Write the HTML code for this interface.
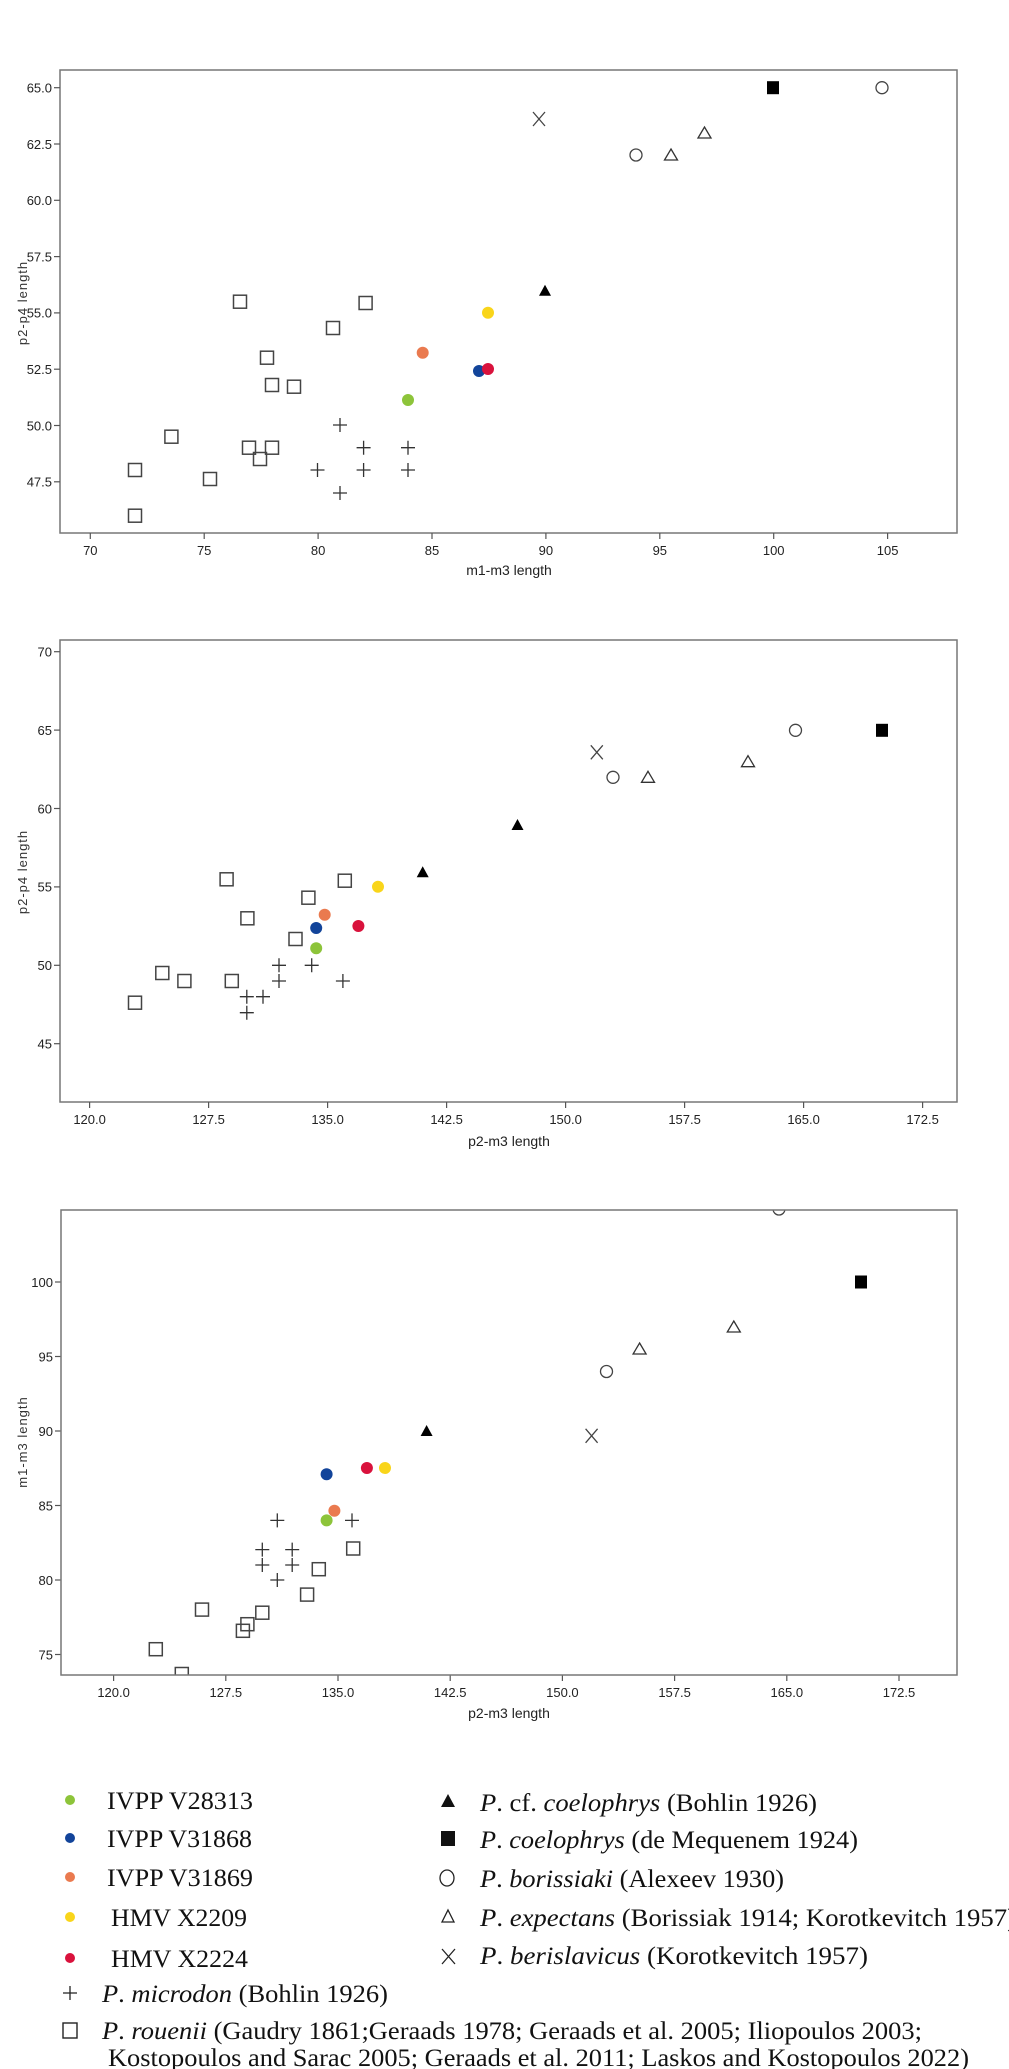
<!DOCTYPE html>
<html><head><meta charset="utf-8"><style>
html,body{margin:0;padding:0;background:#fff}
svg{display:block}
.t{font-family:"Liberation Sans",sans-serif;font-size:13px;fill:#222}
.ax{font-family:"Liberation Sans",sans-serif;font-size:14px;fill:#222}
.yt{font-family:"Liberation Sans",sans-serif;font-size:13px;fill:#333;letter-spacing:1px}
.lg{font-family:"Liberation Serif",serif;font-size:25px;fill:#111}
.i{font-style:italic}
</style></head><body>
<svg width="1009" height="2069" viewBox="0 0 1009 2069" xmlns="http://www.w3.org/2000/svg">
<defs>
<rect id="sq" x="-6.5" y="-6.5" width="13" height="13" fill="none" stroke="#444" stroke-width="1.5"/>
<rect id="fsq" x="-6" y="-6.5" width="12" height="13" fill="#000"/>
<circle id="oc" r="6" fill="none" stroke="#444" stroke-width="1.3"/>
<path id="ot" d="M0,-6 L6.5,5 L-6.5,5 Z" fill="none" stroke="#333" stroke-width="1.3"/>
<path id="ft" d="M0,-6 L6,5 L-6,5 Z" fill="#000"/>
<path id="pl" d="M-7,0 H7 M0,-7 V7" stroke="#333" stroke-width="1.3"/>
<path id="xx" d="M-6,-7 L6,7 M6,-7 L-6,7" stroke="#444" stroke-width="1.3"/>
</defs>

<!-- ===== Chart 1 ===== -->
<g>
<rect x="60" y="70" width="897" height="463" fill="none" stroke="#777" stroke-width="1.5"/>
<g stroke="#555" stroke-width="1.2">
<line x1="54" x2="60" y1="87.7" y2="87.7"/><line x1="54" x2="60" y1="144" y2="144"/><line x1="54" x2="60" y1="200.3" y2="200.3"/><line x1="54" x2="60" y1="256.6" y2="256.6"/><line x1="54" x2="60" y1="312.9" y2="312.9"/><line x1="54" x2="60" y1="369.2" y2="369.2"/><line x1="54" x2="60" y1="425.5" y2="425.5"/><line x1="54" x2="60" y1="481.8" y2="481.8"/>
<line y1="533" y2="539" x1="90.3" x2="90.3"/><line y1="533" y2="539" x1="204.2" x2="204.2"/><line y1="533" y2="539" x1="318.1" x2="318.1"/><line y1="533" y2="539" x1="432" x2="432"/><line y1="533" y2="539" x1="545.9" x2="545.9"/><line y1="533" y2="539" x1="659.8" x2="659.8"/><line y1="533" y2="539" x1="773.7" x2="773.7"/><line y1="533" y2="539" x1="887.6" x2="887.6"/>
</g>
<g class="t" text-anchor="end">
<text x="52" y="92.5">65.0</text><text x="52" y="148.8">62.5</text><text x="52" y="205.1">60.0</text><text x="52" y="261.4">57.5</text><text x="52" y="317.7">55.0</text><text x="52" y="374">52.5</text><text x="52" y="430.3">50.0</text><text x="52" y="486.6">47.5</text>
</g>
<g class="t" text-anchor="middle">
<text x="90.3" y="555">70</text><text x="204.2" y="555">75</text><text x="318.1" y="555">80</text><text x="432" y="555">85</text><text x="545.9" y="555">90</text><text x="659.8" y="555">95</text><text x="773.7" y="555">100</text><text x="887.6" y="555">105</text>
</g>
<text class="ax" x="509" y="575" text-anchor="middle">m1-m3 length</text>
<text class="yt" transform="translate(27,303) rotate(-90)" text-anchor="middle">p2-p4 length</text>
<use href="#xx" x="539" y="119"/>
<use href="#fsq" x="773" y="87.7"/>
<use href="#oc" x="882" y="87.7"/>
<use href="#ot" x="704.5" y="133"/>
<use href="#oc" x="636" y="155"/>
<use href="#ot" x="671" y="155"/>
<use href="#ft" x="545" y="290.7"/>
<use href="#sq" x="240" y="301.7"/><use href="#sq" x="365.6" y="303"/><use href="#sq" x="333" y="328"/><use href="#sq" x="267" y="357.7"/><use href="#sq" x="272" y="385"/><use href="#sq" x="294" y="386.7"/>
<use href="#sq" x="171.4" y="436.7"/><use href="#sq" x="249" y="447.7"/><use href="#sq" x="272" y="447.7"/><use href="#sq" x="260" y="459"/><use href="#sq" x="135" y="470"/><use href="#sq" x="210" y="479"/><use href="#sq" x="135" y="515.7"/>
<use href="#pl" x="340" y="425"/><use href="#pl" x="363.6" y="447.7"/><use href="#pl" x="408" y="447.7"/><use href="#pl" x="317.5" y="470"/><use href="#pl" x="363.6" y="470"/><use href="#pl" x="408" y="470"/><use href="#pl" x="340" y="493"/>
<circle cx="488" cy="312.7" r="6" fill="#f9d51a"/>
<circle cx="422.7" cy="352.7" r="6" fill="#ea7a4f"/>
<circle cx="479" cy="371" r="6" fill="#12449a"/>
<circle cx="488" cy="369" r="6" fill="#d9123c"/>
<circle cx="408" cy="400" r="6" fill="#8dc43a"/>
</g>

<!-- ===== Chart 2 ===== -->
<g>
<rect x="60" y="640" width="897" height="462" fill="none" stroke="#777" stroke-width="1.5"/>
<g stroke="#555" stroke-width="1.2">
<line x1="54" x2="60" y1="651.7" y2="651.7"/><line x1="54" x2="60" y1="730.1" y2="730.1"/><line x1="54" x2="60" y1="808.5" y2="808.5"/><line x1="54" x2="60" y1="886.9" y2="886.9"/><line x1="54" x2="60" y1="965.3" y2="965.3"/><line x1="54" x2="60" y1="1043.7" y2="1043.7"/>
<line y1="1102" y2="1108" x1="89.6" x2="89.6"/><line y1="1102" y2="1108" x1="208.6" x2="208.6"/><line y1="1102" y2="1108" x1="327.6" x2="327.6"/><line y1="1102" y2="1108" x1="446.6" x2="446.6"/><line y1="1102" y2="1108" x1="565.6" x2="565.6"/><line y1="1102" y2="1108" x1="684.6" x2="684.6"/><line y1="1102" y2="1108" x1="803.6" x2="803.6"/><line y1="1102" y2="1108" x1="922.6" x2="922.6"/>
</g>
<g class="t" text-anchor="end">
<text x="52" y="656.5">70</text><text x="52" y="734.9">65</text><text x="52" y="813.3">60</text><text x="52" y="891.7">55</text><text x="52" y="970.1">50</text><text x="52" y="1048.5">45</text>
</g>
<g class="t" text-anchor="middle">
<text x="89.6" y="1124">120.0</text><text x="208.6" y="1124">127.5</text><text x="327.6" y="1124">135.0</text><text x="446.6" y="1124">142.5</text><text x="565.6" y="1124">150.0</text><text x="684.6" y="1124">157.5</text><text x="803.6" y="1124">165.0</text><text x="922.6" y="1124">172.5</text>
</g>
<text class="ax" x="509" y="1146" text-anchor="middle">p2-m3 length</text>
<text class="yt" transform="translate(27,872) rotate(-90)" text-anchor="middle">p2-p4 length</text>
<use href="#xx" x="596.8" y="752.3"/>
<use href="#oc" x="613" y="777.3"/>
<use href="#ot" x="648" y="777.3"/>
<use href="#ot" x="748" y="761.7"/>
<use href="#oc" x="795.5" y="730.3"/>
<use href="#fsq" x="882" y="730.3"/>
<use href="#ft" x="517.5" y="825"/>
<use href="#ft" x="422.7" y="872.3"/>
<use href="#sq" x="226.6" y="879.3"/><use href="#sq" x="344.8" y="880.7"/><use href="#sq" x="308.4" y="897.7"/><use href="#sq" x="247.4" y="918.3"/><use href="#sq" x="295.5" y="939"/><use href="#sq" x="162.3" y="973"/><use href="#sq" x="184.4" y="981"/><use href="#sq" x="231.8" y="981"/><use href="#sq" x="135" y="1002.7"/>
<use href="#pl" x="279" y="965.3"/><use href="#pl" x="311.7" y="965.3"/><use href="#pl" x="279" y="981"/><use href="#pl" x="342.9" y="981"/><use href="#pl" x="246.8" y="996.7"/><use href="#pl" x="263" y="996.7"/><use href="#pl" x="246.8" y="1012.7"/>
<circle cx="378" cy="886.7" r="6" fill="#f9d51a"/>
<circle cx="324.7" cy="914.7" r="6" fill="#ea7a4f"/>
<circle cx="316.2" cy="928" r="6" fill="#12449a"/>
<circle cx="358.4" cy="926" r="6" fill="#d9123c"/>
<circle cx="316.2" cy="948.3" r="6" fill="#8dc43a"/>
</g>

<!-- ===== Chart 3 ===== -->
<g>
<clipPath id="c3"><rect x="61" y="1210" width="896" height="465"/></clipPath>
<g stroke="#555" stroke-width="1.2">
<line x1="55" x2="61" y1="1282" y2="1282"/><line x1="55" x2="61" y1="1356.5" y2="1356.5"/><line x1="55" x2="61" y1="1431" y2="1431"/><line x1="55" x2="61" y1="1505.5" y2="1505.5"/><line x1="55" x2="61" y1="1580" y2="1580"/><line x1="55" x2="61" y1="1654.5" y2="1654.5"/>
<line y1="1675" y2="1681" x1="113.6" x2="113.6"/><line y1="1675" y2="1681" x1="225.8" x2="225.8"/><line y1="1675" y2="1681" x1="338" x2="338"/><line y1="1675" y2="1681" x1="450.2" x2="450.2"/><line y1="1675" y2="1681" x1="562.4" x2="562.4"/><line y1="1675" y2="1681" x1="674.6" x2="674.6"/><line y1="1675" y2="1681" x1="786.8" x2="786.8"/><line y1="1675" y2="1681" x1="899" x2="899"/>
</g>
<g class="t" text-anchor="end">
<text x="53" y="1286.8">100</text><text x="53" y="1361.3">95</text><text x="53" y="1435.8">90</text><text x="53" y="1510.3">85</text><text x="53" y="1584.8">80</text><text x="53" y="1659.3">75</text>
</g>
<g class="t" text-anchor="middle">
<text x="113.6" y="1697">120.0</text><text x="225.8" y="1697">127.5</text><text x="338" y="1697">135.0</text><text x="450.2" y="1697">142.5</text><text x="562.4" y="1697">150.0</text><text x="674.6" y="1697">157.5</text><text x="786.8" y="1697">165.0</text><text x="899" y="1697">172.5</text>
</g>
<text class="ax" x="509" y="1718" text-anchor="middle">p2-m3 length</text>
<text class="yt" transform="translate(27,1442) rotate(-90)" text-anchor="middle">m1-m3 length</text>
<g clip-path="url(#c3)">
<use href="#oc" x="779" y="1209"/>
<use href="#fsq" x="861" y="1282"/>
<use href="#ot" x="733.8" y="1327"/>
<use href="#ot" x="639.6" y="1349"/>
<use href="#oc" x="606.5" y="1371.5"/>
<use href="#ft" x="426.6" y="1431"/>
<use href="#xx" x="591.6" y="1435.8"/>
<use href="#pl" x="277.3" y="1520.4"/><use href="#pl" x="352" y="1520.4"/><use href="#pl" x="262.3" y="1549.6"/><use href="#pl" x="292.2" y="1549.6"/><use href="#pl" x="262.3" y="1565"/><use href="#pl" x="292.2" y="1565"/><use href="#pl" x="277.3" y="1580"/>
<use href="#sq" x="353.2" y="1548.5"/><use href="#sq" x="318.8" y="1569.2"/><use href="#sq" x="307.1" y="1594.6"/><use href="#sq" x="202" y="1609.6"/><use href="#sq" x="262.3" y="1612.7"/><use href="#sq" x="247.4" y="1624.2"/><use href="#sq" x="242.9" y="1630.8"/><use href="#sq" x="155.8" y="1649.2"/><use href="#sq" x="181.8" y="1674"/>
<circle cx="326.6" cy="1474.2" r="6" fill="#12449a"/>
<circle cx="366.9" cy="1468" r="6" fill="#d9123c"/>
<circle cx="385" cy="1468" r="6" fill="#f9d51a"/>
<circle cx="334.4" cy="1510.8" r="6" fill="#ea7a4f"/>
<circle cx="326.6" cy="1520.4" r="6" fill="#8dc43a"/>
</g>
<rect x="61" y="1210" width="896" height="465" fill="none" stroke="#777" stroke-width="1.5"/>
</g>

<!-- ===== Legend ===== -->
<g>
<circle cx="70" cy="1800" r="5" fill="#8dc43a"/>
<circle cx="70" cy="1838" r="5" fill="#12449a"/>
<circle cx="70" cy="1877" r="5" fill="#ea7a4f"/>
<circle cx="70" cy="1917" r="5" fill="#f9d51a"/>
<circle cx="70" cy="1958" r="5" fill="#d9123c"/>
<path d="M63,1993 H77 M70,1986 V2000" stroke="#222" stroke-width="1.3"/>
<rect x="63" y="2023" width="14" height="15" fill="none" stroke="#222" stroke-width="1.4"/>
<path d="M448,1794 L455,1807 L441,1807 Z" fill="#111"/>
<rect x="441" y="1831" width="14" height="15" fill="#111"/>
<ellipse cx="447" cy="1878" rx="7" ry="8" fill="none" stroke="#222" stroke-width="1.3"/>
<path d="M448,1910 L454,1922 L442,1922 Z" fill="none" stroke="#222" stroke-width="1.3"/>
<path d="M442,1949 L455,1964 M455,1949 L442,1964" stroke="#222" stroke-width="1.3"/>
<g class="lg">
<text x="107" y="1809" textLength="146" lengthAdjust="spacingAndGlyphs">IVPP V28313</text>
<text x="107" y="1847" textLength="145" lengthAdjust="spacingAndGlyphs">IVPP V31868</text>
<text x="107" y="1886" textLength="146" lengthAdjust="spacingAndGlyphs">IVPP V31869</text>
<text x="111" y="1926" textLength="136" lengthAdjust="spacingAndGlyphs">HMV X2209</text>
<text x="111" y="1967" textLength="137" lengthAdjust="spacingAndGlyphs">HMV X2224</text>
<text x="102" y="2002" textLength="286" lengthAdjust="spacingAndGlyphs"><tspan class="i">P</tspan>. <tspan class="i">microdon</tspan> (Bohlin 1926)</text>
<text x="102" y="2039" textLength="820" lengthAdjust="spacingAndGlyphs"><tspan class="i">P</tspan>. <tspan class="i">rouenii</tspan> (Gaudry 1861;Geraads 1978; Geraads et al. 2005; Iliopoulos 2003;</text>
<text x="108" y="2066" textLength="861" lengthAdjust="spacingAndGlyphs">Kostopoulos and Sarac 2005; Geraads et al. 2011; Laskos and Kostopoulos 2022)</text>
<text x="480" y="1811" textLength="337" lengthAdjust="spacingAndGlyphs"><tspan class="i">P</tspan>. cf. <tspan class="i">coelophrys</tspan> (Bohlin 1926)</text>
<text x="480" y="1848" textLength="378" lengthAdjust="spacingAndGlyphs"><tspan class="i">P</tspan>. <tspan class="i">coelophrys</tspan> (de Mequenem 1924)</text>
<text x="480" y="1887" textLength="304" lengthAdjust="spacingAndGlyphs"><tspan class="i">P</tspan>. <tspan class="i">borissiaki</tspan> (Alexeev 1930)</text>
<text x="480" y="1926" textLength="536" lengthAdjust="spacingAndGlyphs"><tspan class="i">P</tspan>. <tspan class="i">expectans</tspan>  (Borissiak 1914; Korotkevitch 1957)</text>
<text x="480" y="1964" textLength="388" lengthAdjust="spacingAndGlyphs"><tspan class="i">P</tspan>. <tspan class="i">berislavicus</tspan>  (Korotkevitch 1957)</text>
</g>
</g>
</svg>
</body></html>
